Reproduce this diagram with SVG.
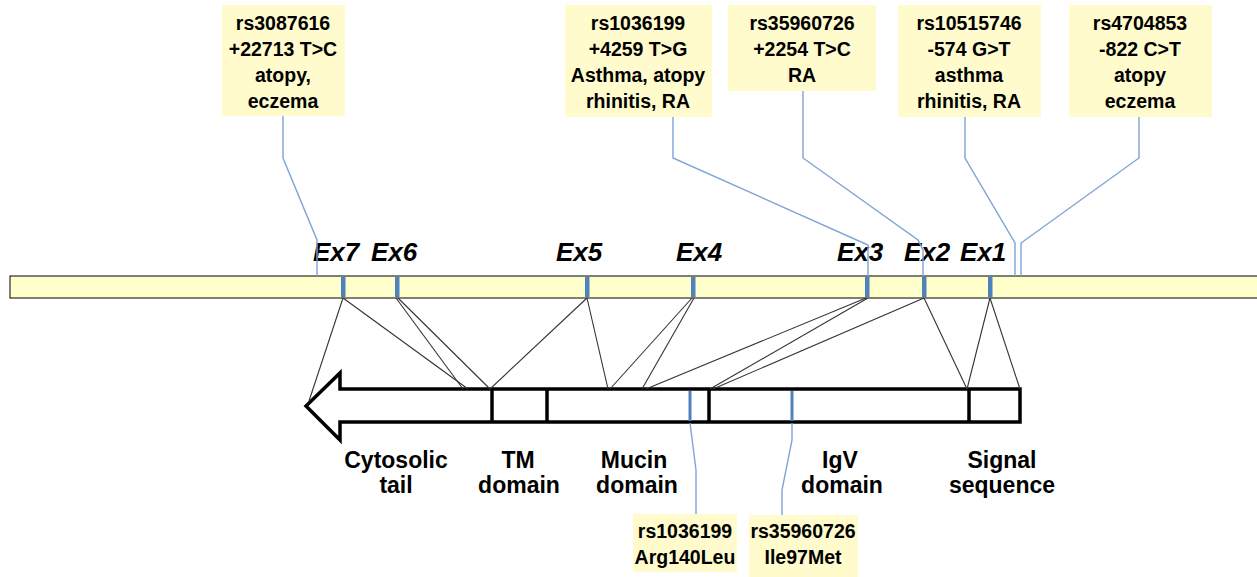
<svg xmlns="http://www.w3.org/2000/svg" width="1257" height="577" viewBox="0 0 1257 577">
<style>
.box{fill:#FFFBCC;stroke:none}
.t{font-family:"Liberation Sans",Arial,sans-serif;font-weight:bold;font-size:19.5px;fill:#000;text-anchor:middle}
.ex{font-family:"Liberation Sans",Arial,sans-serif;font-weight:bold;font-style:italic;font-size:26px;fill:#000}
.dom{font-family:"Liberation Sans",Arial,sans-serif;font-weight:bold;font-size:23px;fill:#000;text-anchor:middle}
.snp{fill:none;stroke:#7FA3D6;stroke-width:1.4}
.map{stroke:#333;stroke-width:1.1}
.exon{fill:#4F81BD}
.div{stroke:#000;stroke-width:3.5}
</style>
<rect width="1257" height="577" fill="#fff"/>
<!-- genome bar -->
<g id="genome">
<rect x="10" y="276" width="1260" height="22" fill="#FFFFCC" stroke="#000" stroke-width="1"/>
<rect class="exon" x="341" y="277" width="4.5" height="20"/>
<rect class="exon" x="395" y="277" width="4.5" height="20"/>
<rect class="exon" x="585" y="277" width="4.5" height="20"/>
<rect class="exon" x="691" y="277" width="4.5" height="20"/>
<rect class="exon" x="865" y="277" width="4.5" height="20"/>
<rect class="exon" x="922" y="277" width="4.5" height="20"/>
<rect class="exon" x="988" y="277" width="4.5" height="20"/>
</g>
<g id="exon-labels">
<text class="ex" x="313" y="261">Ex7</text>
<text class="ex" x="371" y="261">Ex6</text>
<text class="ex" x="556" y="261">Ex5</text>
<text class="ex" x="676" y="261">Ex4</text>
<text class="ex" x="837" y="261">Ex3</text>
<text class="ex" x="904" y="261">Ex2</text>
<text class="ex" x="960" y="261">Ex1</text>
</g>
<!-- protein arrow -->
<g id="protein">
<path d="M1020,389 L340,389 L340,373 L306,406 L340,440 L340,422 L1020,422 Z" fill="#fff" stroke="#000" stroke-width="3.5" stroke-linejoin="miter"/>
<line class="div" x1="492" y1="389" x2="492" y2="422"/>
<line class="div" x1="547" y1="389" x2="547" y2="422"/>
<line class="div" x1="709" y1="389" x2="709" y2="422"/>
<line class="div" x1="969" y1="389" x2="969" y2="422"/>
<rect class="exon" x="688.5" y="391" width="3" height="30"/>
<rect class="exon" x="790.5" y="391" width="3" height="30"/>
</g>
<g id="domain-labels">
<text class="dom" x="396" y="468">Cytosolic</text>
<text class="dom" x="396" y="493">tail</text>
<text class="dom" x="518" y="468">TM</text>
<text class="dom" x="519" y="493">domain</text>
<text class="dom" x="634" y="468">Mucin</text>
<text class="dom" x="637" y="493">domain</text>
<text class="dom" x="840" y="468">IgV</text>
<text class="dom" x="842" y="493">domain</text>
<text class="dom" x="1002" y="468">Signal</text>
<text class="dom" x="1002" y="493">sequence</text>
</g>
<!-- connectors -->
<g id="connectors">
<line class="map" x1="343" y1="298" x2="309" y2="401"/>
<line class="map" x1="343" y1="298" x2="468" y2="389"/>
<line class="map" x1="396" y1="298" x2="463" y2="389"/>
<line class="map" x1="398" y1="298" x2="490" y2="389"/>
<line class="map" x1="587" y1="298" x2="490" y2="389"/>
<line class="map" x1="587" y1="298" x2="608" y2="389"/>
<line class="map" x1="692" y1="298" x2="610" y2="389"/>
<line class="map" x1="694" y1="298" x2="642" y2="389"/>
<line class="map" x1="866" y1="298" x2="646" y2="389"/>
<line class="map" x1="868" y1="298" x2="710" y2="389"/>
<line class="map" x1="924" y1="298" x2="713" y2="389"/>
<line class="map" x1="924" y1="298" x2="967" y2="389"/>
<line class="map" x1="990" y1="298" x2="967" y2="389"/>
<line class="map" x1="990" y1="298" x2="1020" y2="389"/>
<polyline class="snp" points="283,116 283,158 317,240 317,276"/>
<polyline class="snp" points="673,117 673,158 868,245 868,276"/>
<polyline class="snp" points="803,91 803,158 918,240 923,250 923,276"/>
<polyline class="snp" points="965,117 965,158 1015,243 1015,276"/>
<polyline class="snp" points="1139,117 1139,158 1021,243 1021,276"/>
<polyline class="snp" points="690,423 696,470 696,514"/>
<polyline class="snp" points="792,423 792,440 782,490 782,515"/>
</g>
<!-- SNP boxes -->
<g id="snp-rs3087616">
<rect class="box" x="222" y="5" width="123" height="111"/>
<text class="t" x="283" y="30">rs3087616</text>
<text class="t" x="283" y="56">+22713 T&gt;C</text>
<text class="t" x="283" y="82">atopy,</text>
<text class="t" x="283" y="108">eczema</text>
</g>
<g id="snp-rs1036199">
<rect class="box" x="565" y="5" width="147" height="112"/>
<text class="t" x="638" y="30">rs1036199</text>
<text class="t" x="638" y="56">+4259 T&gt;G</text>
<text class="t" x="638" y="82">Asthma, atopy</text>
<text class="t" x="638" y="108">rhinitis, RA</text>
</g>
<g id="snp-rs35960726">
<rect class="box" x="728" y="5" width="148" height="86"/>
<text class="t" x="802" y="30">rs35960726</text>
<text class="t" x="802" y="56">+2254 T&gt;C</text>
<text class="t" x="802" y="82">RA</text>
</g>
<g id="snp-rs10515746">
<rect class="box" x="898" y="5" width="143" height="112"/>
<text class="t" x="969" y="30">rs10515746</text>
<text class="t" x="969" y="56">-574 G&gt;T</text>
<text class="t" x="969" y="82">asthma</text>
<text class="t" x="969" y="108">rhinitis, RA</text>
</g>
<g id="snp-rs4704853">
<rect class="box" x="1069" y="5" width="143" height="112"/>
<text class="t" x="1140" y="30">rs4704853</text>
<text class="t" x="1140" y="56">-822 C&gt;T</text>
<text class="t" x="1140" y="82">atopy</text>
<text class="t" x="1140" y="108">eczema</text>
</g>
<g id="snp-Arg140Leu">
<rect class="box" x="633" y="514" width="104" height="58"/>
<text class="t" x="685" y="538">rs1036199</text>
<text class="t" x="685" y="564">Arg140Leu</text>
</g>
<g id="snp-Ile97Met">
<rect class="box" x="749" y="515" width="109" height="62"/>
<text class="t" x="803" y="538">rs35960726</text>
<text class="t" x="803" y="564">Ile97Met</text>
</g>
</svg>
